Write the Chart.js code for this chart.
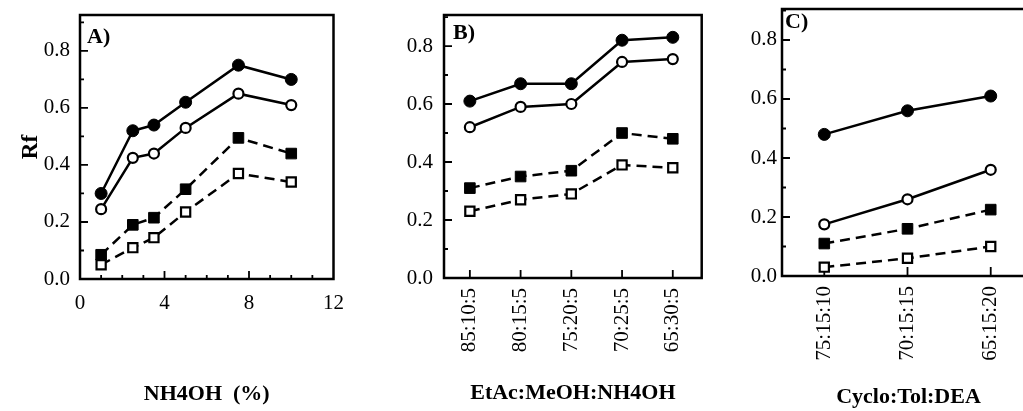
<!DOCTYPE html>
<html>
<head>
<meta charset="utf-8">
<script src="https://cdn.jsdelivr.net/npm/chart.js@4.4.1/dist/chart.umd.min.js"></script>
<style>
  html, body { margin: 0; padding: 0; background: #fff; overflow: hidden; }
  #wrap { position: relative; width: 1023px; height: 411px; overflow: hidden; }
  canvas { position: absolute; top: 0; }
</style>
</head>
<body>
<div id="wrap">
  <canvas id="chartA" width="370" height="411" style="left:0px"></canvas>
  <canvas id="chartB" width="350" height="411" style="left:370px"></canvas>
  <canvas id="chartC" width="320" height="411" style="left:730px"></canvas>
</div>
<script>
Chart.defaults.font.family = "'Liberation Serif', 'Times New Roman', serif";
Chart.defaults.color = '#000';

// series order: filled circle, open circle, filled square, open square
const seriesNames = ['filled circle', 'open circle', 'filled square', 'open square'];

// A) Rf vs NH4OH (%)
const nh4ohPct = [1, 2.5, 3.5, 5, 7.5, 10];
const aFilledCircle = [0.30, 0.52, 0.54, 0.62, 0.75, 0.70];
const aOpenCircle   = [0.245, 0.425, 0.44, 0.53, 0.65, 0.61];
const aFilledSquare = [0.085, 0.19, 0.215, 0.315, 0.495, 0.44];
const aOpenSquare   = [0.05, 0.11, 0.145, 0.235, 0.37, 0.34];

// B) Rf vs EtAc:MeOH:NH4OH
const etacLabels = ['85:10:5', '80:15:5', '75:20:5', '70:25:5', '65:30:5'];
const bFilledCircle = [0.61, 0.67, 0.67, 0.82, 0.83];
const bOpenCircle   = [0.52, 0.59, 0.60, 0.745, 0.755];
const bFilledSquare = [0.31, 0.35, 0.37, 0.50, 0.48];
const bOpenSquare   = [0.23, 0.27, 0.29, 0.39, 0.38];

// C) Rf vs Cyclo:Tol:DEA
const cycloLabels = ['75:15:10', '70:15:15', '65:15:20'];
const cFilledCircle = [0.48, 0.56, 0.61];
const cOpenCircle   = [0.175, 0.26, 0.36];
const cFilledSquare = [0.11, 0.16, 0.225];
const cOpenSquare   = [0.03, 0.06, 0.10];

const seriesStyle = [
  { pointStyle: 'circle', pointRadius: 6, pointBackgroundColor: '#000', pointBorderWidth: 1, borderDash: [] },
  { pointStyle: 'circle', pointRadius: 5, pointBackgroundColor: '#fff', pointBorderWidth: 2.2, borderDash: [] },
  { pointStyle: 'rect', pointRadius: 7.5, pointBackgroundColor: '#000', pointBorderWidth: 1, borderDash: [10, 6] },
  { pointStyle: 'rect', pointRadius: 6.5, pointBackgroundColor: '#fff', pointBorderWidth: 2.2, borderDash: [10, 6] }
];

// box round the plot, inward tick marks, panel letter
const framePlugin = {
  id: 'frame',
  beforeDatasetsDraw(chart, args, opts) {
    const { ctx, chartArea: a, scales: { x, y } } = chart;
    ctx.save();
    ctx.strokeStyle = '#000';
    ctx.lineWidth = 2.5;
    ctx.strokeRect(a.left, a.top, a.right - a.left, a.bottom - a.top);

    ctx.lineWidth = 1.8;
    ctx.beginPath();
    for (let i = 0; i / 10 <= y.max; i++) {
      const py = y.getPixelForValue(i / 10);
      ctx.moveTo(a.left, py);
      ctx.lineTo(a.left + (i % 2 ? 4 : 8), py);
    }
    opts.xMarks.forEach(v => {
      const px = x.getPixelForValue(v);
      ctx.moveTo(px, a.bottom);
      ctx.lineTo(px, a.bottom - opts.xMarkLen(v));
    });
    ctx.stroke();

    ctx.fillStyle = '#000';
    ctx.font = "bold 22px 'Liberation Serif', serif";
    ctx.textBaseline = 'middle';
    ctx.fillText(opts.letter, a.left + opts.letterDx, a.top + opts.letterDy);
    ctx.restore();
  }
};

function makePanel(id, p) {
  return new Chart(document.getElementById(id), {
    type: 'scatter',
    data: {
      datasets: p.series.map((ys, k) => ({
        label: seriesNames[k],
        data: p.xs.map((x, i) => ({ x: x, y: ys[i] })),
        showLine: true,
        borderColor: '#000',
        borderWidth: 2.5,
        pointBorderColor: '#000',
        pointHoverRadius: seriesStyle[k].pointRadius,
        ...seriesStyle[k]
      }))
    },
    options: {
      responsive: false,
      animation: false,
      layout: { padding: { top: p.top, right: p.right, left: 0, bottom: 0 } },
      plugins: {
        legend: { display: false },
        tooltip: { enabled: false },
        frame: p.frame
      },
      scales: {
        x: {
          type: 'linear',
          min: p.xMin,
          max: p.xMax,
          grid: { display: false, drawTicks: false, tickLength: 0 },
          border: { display: false },
          afterBuildTicks: p.xTicks,
          afterFit: s => { s.height = p.xHeight; s.paddingLeft = 0; s.paddingRight = 0; },
          ticks: {
            autoSkip: false,
            maxRotation: p.rot,
            minRotation: p.rot,
            padding: p.xPad,
            font: { size: 21 },
            callback: p.xLabel
          },
          title: {
            display: true,
            text: p.xTitle,
            font: { size: 22, weight: 'bold' },
            padding: { top: 0, bottom: p.titlePad }
          }
        },
        y: {
          min: 0,
          max: p.yMax,
          grid: { display: false, drawTicks: false, tickLength: 0 },
          border: { display: false },
          afterFit: s => { s.width = p.yWidth; s.paddingTop = 0; s.paddingBottom = 0; },
          ticks: {
            stepSize: 0.2,
            includeBounds: false,
            padding: p.yPad,
            font: { size: 21 },
            callback: v => v.toFixed(1)
          },
          title: {
            display: p.yTitle !== '',
            text: p.yTitle,
            font: { size: 23, weight: 'bold' },
            padding: { top: 17, bottom: 0 }
          }
        }
      }
    },
    plugins: [framePlugin]
  });
}

const indexTicks = labels => s => { s.ticks = labels.map((_, i) => ({ value: i })); };

makePanel('chartA', {
  xs: nh4ohPct,
  series: [aFilledCircle, aOpenCircle, aFilledSquare, aOpenSquare],
  xMin: 0, xMax: 12, yMax: 0.926,
  top: 15, right: 36.5, yWidth: 80, xHeight: 132,
  rot: 0, xPad: 12, yPad: 10, titlePad: 3,
  xTicks: s => { s.ticks = [0, 4, 8, 12].map(v => ({ value: v })); },
  xLabel: v => String(v),
  xTitle: 'NH4OH  (%)', yTitle: 'Rf',
  frame: {
    letter: 'A)', letterDx: 7, letterDy: 22,
    xMarks: [1, 2, 3, 4, 5, 6, 7, 8, 9, 10, 11],
    xMarkLen: v => (v % 4 === 0 ? 8 : 4)
  }
});

makePanel('chartB', {
  xs: etacLabels.map((_, i) => i),
  series: [bFilledCircle, bOpenCircle, bFilledSquare, bOpenSquare],
  xMin: -0.51, xMax: 4.57, yMax: 0.907,
  top: 15, right: 18.3, yWidth: 74, xHeight: 133,
  rot: 90, xPad: 10, yPad: 11, titlePad: 4,
  xTicks: indexTicks(etacLabels),
  xLabel: v => etacLabels[v],
  xTitle: 'EtAc:MeOH:NH4OH', yTitle: '',
  frame: {
    letter: 'B)', letterDx: 9, letterDy: 18.5,
    xMarks: etacLabels.map((_, i) => i),
    xMarkLen: () => 8
  }
});

makePanel('chartC', {
  xs: cycloLabels.map((_, i) => i),
  series: [cFilledCircle, cOpenCircle, cFilledSquare, cOpenSquare],
  xMin: -0.508, xMax: 2.532, yMax: 0.905,
  top: 9, right: 15, yWidth: 52, xHeight: 135,
  rot: 90, xPad: 10, yPad: 5, titlePad: 0,
  xTicks: indexTicks(cycloLabels),
  xLabel: v => cycloLabels[v],
  xTitle: 'Cyclo:Tol:DEA', yTitle: '',
  frame: {
    letter: 'C)', letterDx: 3, letterDy: 13,
    xMarks: cycloLabels.map((_, i) => i),
    xMarkLen: () => 9
  }
});
</script>
</body>
</html>
